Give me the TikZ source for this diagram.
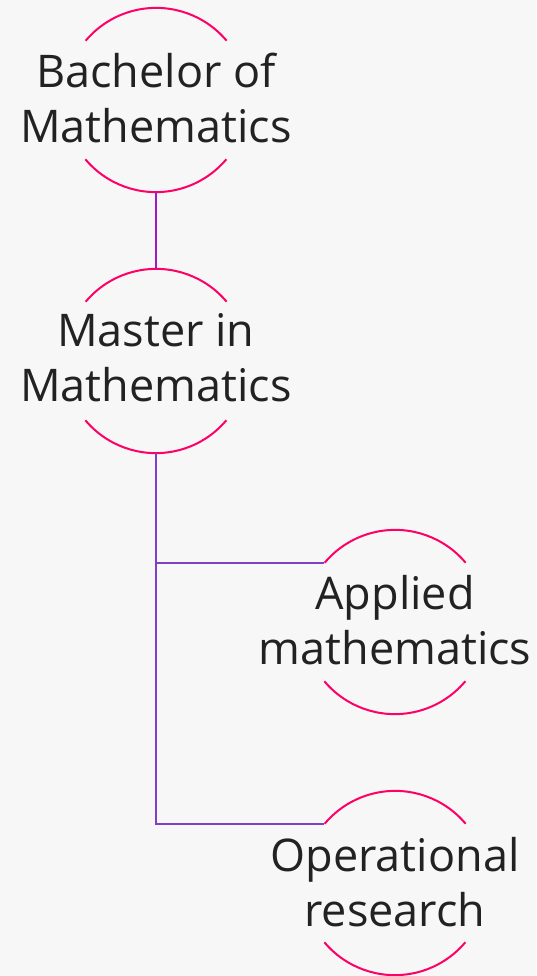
\documentclass[tikz,border=0pt]{standalone}
\usepackage{fontspec}
\setmainfont{Open Sans}
\definecolor{pagegray}{HTML}{F7F7F7}
\definecolor{ringred}{HTML}{FF0066}
\definecolor{linkpurple}{HTML}{A21CC4}
\definecolor{branchviolet}{HTML}{7F3FC8}
\definecolor{inkgray}{HTML}{222222}
\usetikzlibrary{
    positioning,
    calc
}
\tikzstyle{degree} = [
    circle,
    minimum size=184pt,
    inner sep=0pt
]
\tikzstyle{caption} = [
    align=center,
    text=inkgray,
    inner sep=0pt,
    font=\fontsize{45}{55}\selectfont
]
\tikzstyle{ring} = [
    draw=ringred,
    line width=2pt
]
\tikzstyle{link} = [
    draw=linkpurple,
    line width=2pt
]
\tikzstyle{branch} = [
    draw=branchviolet,
    line width=2pt
]

\begin{document}
\begin{tikzpicture}[x=1pt, y=1pt]
        % Page
        \fill[pagegray] (0,0) rectangle (536,-976);
        \useasboundingbox (0,0) rectangle (536,-976);

        % Degrees
        \node[degree] (bach) at (156,-100) {};
        \node[degree] (mast) at (156,-361) {};
        \node[degree] (appl) at (395,-622) {};
        \node[degree] (oper) at (395,-883) {};

        % Rings
        \foreach \n in {bach, mast, appl, oper} {
            \draw[ring] (\n.40) arc[start angle=40, end angle=140, radius=92pt];
            \draw[ring] (\n.220) arc[start angle=220, end angle=320, radius=92pt];
        }

        % Labels
        \node[caption] at ($(bach)+(0,1.5)$) {Bachelor of\\Mathematics};
        \node[caption] at ($(mast)+(0,3)$) {Master in\\Mathematics};
        \node[caption] at ($(appl)+(0,2)$) {Applied\\mathematics};
        \node[caption] at ($(oper)+(0,1)$) {Operational\\research};

        % Links
        \draw[link] (bach.south) -- (mast.north);
        \draw[branch] (mast.south) |- (appl.140);
        \draw[branch] (mast.south) |- (oper.140);
    \end{tikzpicture}
\end{document}
